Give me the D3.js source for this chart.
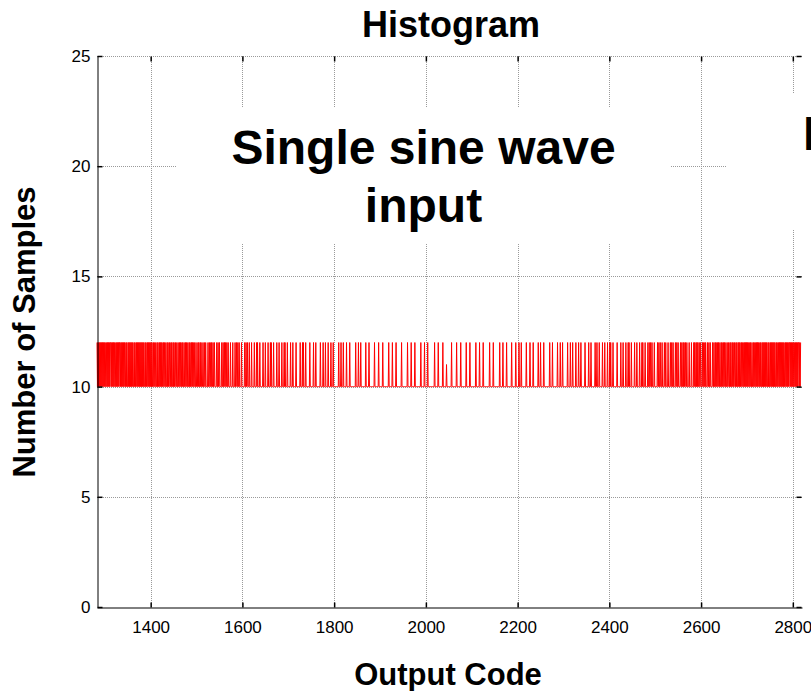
<!DOCTYPE html>
<html>
<head>
<meta charset="utf-8">
<script src="https://cdn.jsdelivr.net/npm/d3@7"></script>
<style>
  html, body { margin: 0; padding: 0; background: #fff; }
  svg { display: block; }
  text { font-family: "Liberation Sans", Arial, Helvetica, sans-serif; }
</style>
</head>
<body>
<div id="chart"></div>
<script>
// ---------- data ----------
const titleText = "Histogram";
const xLabelText = "Output Code";
const yLabelText = "Number of Samples";
const noteLines = ["Single sine wave", "input"];
const note2Text = "N";

const xDomain = [1283, 2820];
const yDomain = [0, 25];
const xTicks = [1400, 1600, 1800, 2000, 2200, 2400, 2600, 2800];
const yTicks = [0, 5, 10, 15, 20, 25];

// first output code of the histogram
const codeStart = 1283;
// per-code sample counts: 0 -> 10, 1 -> 11, 2 -> 12
// each row = 50 consecutive codes (groups of 10)
const countRows = [
  "2020202020 2020202020 0202020202 2020202020 0202020202", // 1283
  "2020202020 2002020020 2020202020 0202002020 2020202020", // 1333
  "2020020200 2020202020 2002020020 0202002020 2020020200", // 1383
  "2002020020 0202002020 0200200200 2020020200 2002020020", // 1433
  "0202002020 2002002000 2020020200 0200200200 0020020020", // 1483
  "2002002000 0200200200 0020020020 2002002000 0200002000", // 1533
  "0200200200 2000020000 0020020020 0020000200 0002000020", // 1583
  "2000020000 0020000200 0002000020 2000020000 0020000200", // 1633
  "0002000020 2000020000 0020000200 0000200000 0002000020", // 1683
  "2000020000 0000200000 0020000200 0000000200 0002000020", // 1733
  "0000200000 2000020000 0000000200 0020000200 0000200000", // 1783
  "0200000000 0000200000 2000020000 0000002000 0002000000", // 1833
  "0000020000 0000200000 0002000000 0000002000 0000200000", // 1883
  "0020000000 0000200000 0000000200 0000020000 0002000000", // 1933
  "0000002000 0000200000 0200000000 0000002000 0000200000", // 1983
  "0000200000 0010000000 0002000000 0000200000 0002000000", // 2033
  "0000020000 0002000000 0000002000 0000200000 0020000000", // 2083
  "0000002000 0000200000 0000000020 0000020000 0002000000", // 2133
  "0000200000 0002000000 2000020000 0000002000 0000200000", // 2183
  "0200000000 0020000200 0000200000 0000000200 0002000000", // 2233
  "0000200000 2000020000 0000002000 0020000200 0000200000", // 2283
  "2000020000 0000200000 0020000200 0000002000 2000020000", // 2333
  "0020000200 0002000020 2000020000 0000200000 0020000200", // 2383
  "0002000020 2000020000 0020000200 0002000020 2000020000", // 2433
  "0200200200 2000020000 0020020020 0020000200 2000020000", // 2483
  "2002002000 0200200200 0020020020 2002002000 0200002000", // 2533
  "0202002020 2002002000 2020020200 0200200200 0020020020", // 2583
  "2002020020 0202002020 0200200200 2020020200 2002020020", // 2633
  "2020020200 2020202020 2002020020 0202002020 2020020200", // 2683
  "2020202020 2002020020 2020202020 0202002020 2020202020", // 2733
  "0202020202 2020202020 0202020202 20202"                  // 2783
];

// ---------- build table ----------
const digits = countRows.join("").replace(/\s+/g, "").split("");
const histData = digits.map((c, i) => ({ code: codeStart + i, count: 10 + (+c) }));

// ---------- layout ----------
const W = 811, H = 691;
const plot = { left: 97, right: 802, top: 56, bottom: 607 };

const svg = d3.select("#chart").append("svg")
  .attr("width", W).attr("height", H)
  .attr("viewBox", `0 0 ${W} ${H}`);

const x = d3.scaleLinear().domain(xDomain).range([plot.left, plot.right]);
const y = d3.scaleLinear().domain(yDomain).range([plot.bottom, plot.top]);
const fmt = d3.format("d");

// grid
const grid = svg.append("g")
  .attr("stroke", "#9a9a9a").attr("stroke-width", 1)
  .attr("stroke-dasharray", "1,1").attr("fill", "none");
grid.selectAll("line.gx").data(xTicks).join("line")
  .attr("class", "gx")
  .attr("x1", d => Math.round(x(d)) + 0.5).attr("x2", d => Math.round(x(d)) + 0.5)
  .attr("y1", plot.top).attr("y2", plot.bottom);
grid.selectAll("line.gy").data(yTicks.filter(d => d > 0)).join("line")
  .attr("class", "gy")
  .attr("y1", d => Math.round(y(d)) + 0.5).attr("y2", d => Math.round(y(d)) + 0.5)
  .attr("x1", plot.left).attr("x2", plot.right);

// data line
const line = d3.line().x(d => x(d.code)).y(d => y(d.count));
svg.append("path")
  .datum(histData)
  .attr("fill", "none")
  .attr("stroke", "#ff0000")
  .attr("stroke-width", 1)
  .attr("d", line);

// axes
const fontTick = 17;
const xAxis = svg.append("g")
  .attr("transform", `translate(0,${plot.bottom + 0.5})`)
  .call(d3.axisBottom(x).tickValues(xTicks).tickFormat(fmt).tickSize(-5).tickSizeOuter(0).tickPadding(13));
const yAxis = svg.append("g")
  .attr("transform", `translate(${plot.left + 0.5},0)`)
  .call(d3.axisLeft(y).tickValues(yTicks).tickFormat(fmt).tickSize(-5).tickSizeOuter(0).tickPadding(7));
const topAxis = svg.append("g")
  .attr("transform", `translate(0,${plot.top + 0.5})`)
  .call(d3.axisTop(x).tickValues(xTicks).tickSize(-5).tickSizeOuter(0).tickFormat(""));
topAxis.select(".domain").remove();
const rightAxis = svg.append("g")
  .attr("transform", `translate(${plot.right - 0.5},0)`)
  .call(d3.axisRight(y).tickValues(yTicks).tickSize(-5).tickSizeOuter(0).tickFormat(""));
rightAxis.select(".domain").remove();

[xAxis, yAxis, topAxis, rightAxis].forEach(g => {
  g.selectAll(".domain").attr("stroke", "#000").attr("stroke-width", 1);
  g.selectAll(".tick line").attr("stroke", "#000").attr("stroke-width", 1.5);
  g.selectAll(".tick text")
    .attr("fill", "#000")
    .style("font-size", fontTick + "px")
    .style("font-family", '"Liberation Sans", Arial, sans-serif');
});

// annotation boxes (cover grid)
svg.append("rect").attr("x", 176).attr("y", 107).attr("width", 495).attr("height", 137).attr("fill", "#fff");
svg.append("rect").attr("x", 727).attr("y", 93).attr("width", 120).attr("height", 137).attr("fill", "#fff");

const note = svg.append("text")
  .attr("text-anchor", "middle")
  .attr("font-weight", "bold")
  .style("font-size", "48px")
  .attr("fill", "#000");
note.selectAll("tspan").data(noteLines).join("tspan")
  .attr("x", 423.5)
  .attr("y", (d, i) => 164 + i * 58)
  .text(d => d);

svg.append("text")
  .attr("x", 803).attr("y", 150)
  .attr("font-weight", "bold")
  .style("font-size", "48px")
  .attr("fill", "#000")
  .text(note2Text);

// title and labels
svg.append("text")
  .attr("x", 451).attr("y", 37)
  .attr("text-anchor", "middle").attr("font-weight", "bold")
  .style("font-size", "36px").text(titleText);

svg.append("text")
  .attr("x", 448).attr("y", 685)
  .attr("text-anchor", "middle").attr("font-weight", "bold")
  .style("font-size", "31px").text(xLabelText);

svg.append("text")
  .attr("transform", `translate(35,332) rotate(-90)`)
  .attr("text-anchor", "middle").attr("font-weight", "bold")
  .style("font-size", "31px").text(yLabelText);
</script>
</body>
</html>
